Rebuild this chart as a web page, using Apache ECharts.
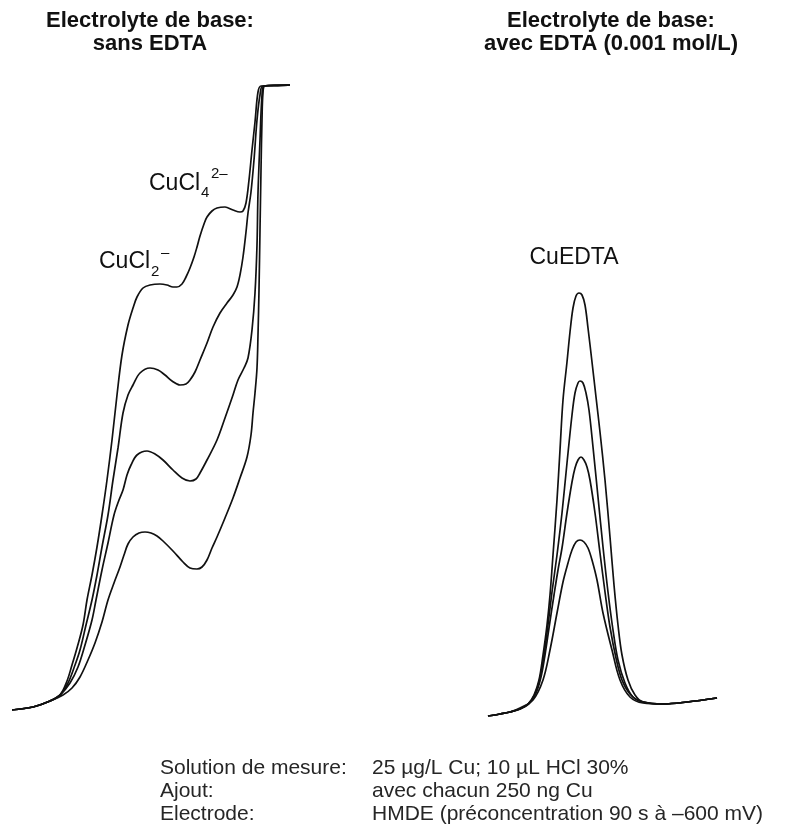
<!DOCTYPE html>
<html>
<head>
<meta charset="utf-8">
<title>Voltammogrammes Cu – sans / avec EDTA</title>
<script src="https://cdn.jsdelivr.net/npm/echarts/dist/echarts.min.js"></script>
<style>
  html, body { margin: 0; padding: 0; background: #ffffff; }
  #chart { width: 807px; height: 838px; }
</style>
</head>
<body>
<div id="chart"></div>
<script>
// Voltammograms of Cu in chloride electrolyte, four successive standard additions.
// Each point is [potential (arbitrary units), current (arbitrary units above baseline)].

// Left: base electrolyte without EDTA (CuCl2- and CuCl4 2- waves)
const sansEdtaScan1 = [
  [0,0],[21,3],[38,9],[48,15],[55,29],[60,45],[65,62],[71,85],[75,110],[80,135],[85,163],
  [90,195],[95,230],[100,270],[105,315],[110,355],[116,385],[121,402],[125,413],[131,422],
  [138,425],[148,426],[155,425],[161,423],[165,423],[170,426],[174,433],[178,442],[182,453],
  [185,463],[188,474],[192,486],[195,493],[200,499],[205,502],[213,503],[221,500],[228,498],
  [231,499],[234,507],[237,530],[240,560],[243,588],[246,618],[249,624],[263,624],[278,625]
];
const sansEdtaScan2 = [
  [0,0],[21,3],[38,9],[48,15],[56,27],[63,45],[68,60],[74,85],[80,110],[85,135],[90,163],
  [96,195],[101,230],[106,262],[111,297],[116,315],[121,325],[128,337],[138,342],[146,340],
  [153,335],[160,329],[168,325],[174,326],[178,330],[183,338],[188,350],[195,367],[201,383],
  [208,397],[215,407],[221,415],[225,423],[228,435],[231,453],[234,478],[236,497],[239,518],
  [242,550],[245,590],[248,615],[251,624],[278,625]
];
const sansEdtaScan3 = [
  [0,0],[21,3],[38,9],[48,15],[58,27],[66,43],[73,65],[80,90],[84,110],[90,140],[96,167],
  [102,195],[107,210],[111,220],[115,235],[119,245],[125,255],[135,259],[143,256],[151,250],
  [161,240],[170,232],[178,229],[184,231],[188,237],[195,250],[205,270],[213,292],[221,315],
  [226,330],[232,342],[236,352],[240,380],[243,417],[245,465],[246,517],[248,570],[250,615],
  [252,624],[278,625]
];
const sansEdtaScan4 = [
  [0,0],[21,3],[38,9],[51,15],[60,22],[68,33],[76,50],[83,67],[90,88],[96,110],[102,127],
  [108,143],[112,155],[116,166],[121,173],[127,177],[133,178],[139,177],[145,174],[151,169],
  [161,159],[171,148],[178,142],[185,141],[190,143],[195,150],[200,162],[205,173],[213,192],
  [221,212],[228,232],[235,253],[239,275],[241,297],[243,317],[245,342],[246,375],[247,420],
  [248,480],[249,540],[250,590],[251,617],[253,624],[278,625]
];

// Right: base electrolyte with EDTA 0.001 mol/L (CuEDTA peak)
const avecEdtaScan1 = [
  [0,0],[12,2],[22,4],[32,7],[40,12],[46,21],[51,36],[55,61],[59,91],[62,121],[65,161],
  [69,216],[72,266],[75,316],[79,354],[82,384],[85,408],[88,420],[91,423],[94,421],[97,411],
  [100,388],[104,354],[108,319],[112,284],[117,236],[122,179],[126,131],[130,91],[134,61],
  [140,36],[147,21],[155,14],[175,12],[199,14],[229,18]
];
const avecEdtaScan2 = [
  [0,0],[12,2],[22,4],[32,7],[40,12],[47,22],[52,38],[56,61],[60,91],[64,124],[69,161],
  [74,203],[79,253],[84,301],[87,323],[90,333],[92,335],[95,333],[98,323],[101,306],[105,269],
  [110,219],[115,169],[120,124],[125,86],[130,56],[137,33],[145,19],[155,14],[175,12],
  [199,14],[229,18]
];
const avecEdtaScan3 = [
  [0,0],[12,2],[22,4],[32,7],[41,12],[48,23],[53,39],[57,61],[61,88],[66,121],[70,146],
  [74,168],[79,203],[84,234],[87,248],[90,256],[93,259],[96,256],[99,249],[102,236],[107,203],
  [112,163],[117,124],[122,89],[128,58],[134,36],[142,22],[152,15],[175,12],[199,14],[229,18]
];
const avecEdtaScan4 = [
  [0,0],[12,2],[22,4],[32,8],[45,16],[55,36],[62,66],[69,103],[75,134],[80,153],[84,166],
  [88,174],[92,176],[96,174],[100,168],[104,156],[109,136],[115,103],[124,66],[132,36],
  [142,19],[155,13],[175,12],[199,14],[229,18]
];

const panelTitles = [
  ['Electrolyte de base:', 'sans EDTA'],
  ['Electrolyte de base:', 'avec EDTA (0.001 mol/L)']
];
const conditionLabels = ['Solution de mesure:', 'Ajout:', 'Electrode:'];
const conditionValues = [
  '25 \u00b5g/L Cu; 10 \u00b5L HCl 30%',
  'avec chacun 250 ng Cu',
  'HMDE (pr\u00e9concentration 90 s \u00e0 \u2013600 mV)'
];

const INK = '#111111';
const FONT = '"Liberation Sans", Arial, Helvetica, sans-serif';

const chart = echarts.init(document.getElementById('chart'), null, { renderer: 'canvas' });

function trace(data, gridIndex) {
  return {
    type: 'line',
    xAxisIndex: gridIndex,
    yAxisIndex: gridIndex,
    data: data,
    smooth: 0.35,
    showSymbol: false,
    symbol: 'none',
    animation: false,
    silent: true,
    lineStyle: { color: INK, width: 1.7 }
  };
}

function txt(x, y, text, size, extra) {
  const style = Object.assign({
    text: text, fontSize: size, fontFamily: FONT, fill: INK,
    align: 'left', verticalAlign: 'middle'
  }, extra || {});
  return { type: 'text', x: x, y: y, silent: true, style: style };
}

const graphics = [];
// panel titles
[150, 611].forEach(function (cx, i) {
  panelTitles[i].forEach(function (line, j) {
    graphics.push(txt(cx, 21 + j * 23, line, 22, { fontWeight: 'bold', align: 'center' }));
  });
});
// species labels with sub/superscripts
graphics.push(txt(149, 184, 'CuCl', 23));
graphics.push(txt(201, 193, '4', 15));
graphics.push(txt(211, 174, '2\u2013', 15));
graphics.push(txt(99, 262, 'CuCl', 23));
graphics.push(txt(151, 272, '2', 15));
graphics.push(txt(161, 253, '\u2013', 15));
graphics.push(txt(574, 258, 'CuEDTA', 23, { align: 'center' }));
// measurement conditions
conditionLabels.forEach(function (lab, i) {
  graphics.push(txt(160, 768 + i * 23, lab, 21, { fill: '#262626' }));
  graphics.push(txt(372, 768 + i * 23, conditionValues[i], 21, { fill: '#262626' }));
});

chart.setOption({
  backgroundColor: '#ffffff',
  animation: false,
  grid: [
    { left: 12, top: 80, width: 280, height: 630 },
    { left: 488, top: 280, width: 232, height: 436 }
  ],
  xAxis: [
    { type: 'value', gridIndex: 0, min: 0, max: 280, show: false },
    { type: 'value', gridIndex: 1, min: 0, max: 232, show: false }
  ],
  yAxis: [
    { type: 'value', gridIndex: 0, min: 0, max: 630, show: false },
    { type: 'value', gridIndex: 1, min: 0, max: 436, show: false }
  ],
  series: [
    trace(sansEdtaScan1, 0), trace(sansEdtaScan2, 0),
    trace(sansEdtaScan3, 0), trace(sansEdtaScan4, 0),
    trace(avecEdtaScan1, 1), trace(avecEdtaScan2, 1),
    trace(avecEdtaScan3, 1), trace(avecEdtaScan4, 1)
  ],
  graphic: graphics
});
</script>
</body>
</html>
